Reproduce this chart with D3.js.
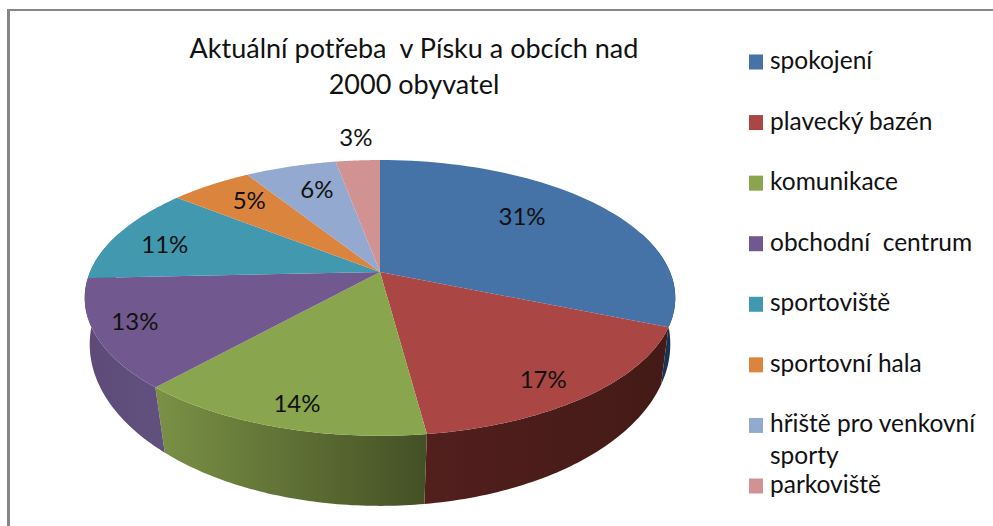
<!DOCTYPE html>
<meta charset="utf-8">
<style>
html, body { margin: 0; padding: 0; background: #fff; }
text { font-family: Lato, "Open Sans", sans-serif; fill: #111; white-space: pre; }
</style>
<body>
<script src="https://d3js.org/d3.v7.min.js"></script>
<script>

// chart data
var titleLines = ["Aktuální potřeba  v Písku a obcích nad", "2000 obyvatel"];
var categories = ["spokojení", "plavecký bazén", "komunikace", "obchodní  centrum",
                  "sportoviště", "sportovní hala", "hřiště pro venkovní sporty", "parkoviště"];
// the labels show these rounded
var percents = [31.3, 16.6, 13.7, 12.7, 11.4, 5.4, 6.0, 2.9];

var width = 993, height = 526;

// colours: top face, then wall shade left -> right
var topColors = ["#4572a7", "#aa4643", "#89a54e", "#71588f", "#4198af", "#db843d", "#93a9cf", "#d19392"];
var wallLeft  = ["#1c3a5e", "#521f1d", "#7a9145", "#5d4a78", "#2f6f80", "#9c5d2b", "#6d7d99", "#9a6c6c"];
var wallRight = ["#16304f", "#431a17", "#445025", "#62507e", "#2f6f80", "#9c5d2b", "#6d7d99", "#9a6c6c"];

var svg = d3.select("body").append("svg")
    .attr("width", width)
    .attr("height", height)
    .style("display", "block");

// chart frame, left edge is a bit thicker than the top one
svg.append("path")
    .attr("d", "M8.5,9V" + height)
    .attr("stroke", "#868686")
    .attr("stroke-width", 3);
svg.append("path")
    .attr("d", "M7,10H" + width)
    .attr("stroke", "#868686")
    .attr("stroke-width", 2);

// title
svg.append("text")
    .attr("text-anchor", "middle")
    .style("font-size", "27px")
    .selectAll("tspan")
    .data(titleLines)
    .enter().append("tspan")
    .attr("x", 414)
    .attr("y", function(d, i) { return 58 + i * 36; })
    .text(function(d) { return d; });

// the pie is a circle seen in perspective. u, v is a point on the plan of the circle
var topPlane = {cx: 380, cy: 272, a: 290, b: 133, q: 0.188};
var bottomPlane = {cx: 380, cy: 320, a: 287, b: 158, q: 0.15};

function project(plane, angle, r) {
  var u = r * Math.sin(angle), v = r * Math.cos(angle);
  var w = 1 + plane.q * v;
  return [plane.cx + plane.a * u / w, plane.cy - plane.b * v / w];
}

var slices = d3.pie().sort(null).value(function(d) { return d; })(percents);

function arcPoints(plane, a0, a1) {
  return d3.range(0, 61).map(function(i) {
    return project(plane, a0 + (a1 - a0) * i / 60, 1);
  });
}

var line = d3.line();
var defs = svg.append("defs");

// side wall, only the part that faces the viewer
var wallFrom = Math.PI * 0.40, wallTo = Math.PI * 1.60;

slices.forEach(function(s, i) {
  var a0 = Math.max(s.startAngle, wallFrom), a1 = Math.min(s.endAngle, wallTo);
  if (a1 <= a0) return;

  var upper = arcPoints(topPlane, a0, a1);
  var lower = arcPoints(bottomPlane, a0, a1).reverse();
  var xs = upper.concat(lower).map(function(p) { return p[0]; });

  var grad = defs.append("linearGradient")
      .attr("id", "wall" + i)
      .attr("gradientUnits", "userSpaceOnUse")
      .attr("x1", d3.min(xs)).attr("x2", d3.max(xs))
      .attr("y1", 0).attr("y2", 0);
  grad.append("stop").attr("offset", 0).attr("stop-color", wallLeft[i]);
  grad.append("stop").attr("offset", 1).attr("stop-color", wallRight[i]);

  svg.append("path")
      .attr("d", line(upper.concat(lower)) + "Z")
      .attr("fill", "url(#wall" + i + ")");
});

// top face
svg.selectAll(".slice")
    .data(slices)
  .enter().append("path")
    .attr("class", "slice")
    .attr("fill", function(d, i) { return topColors[i]; })
    .attr("d", function(d) {
      return line([[topPlane.cx, topPlane.cy]].concat(arcPoints(topPlane, d.startAngle, d.endAngle))) + "Z";
    });

// percent labels: distance from centre as a share of the radius, and a small turn in degrees
var labelReach = [0.695, 0.857, 0.87, 0.864, 0.8, 0.777, 0.739, 1.247];
var labelTurn = [-6.5, 2.7, -1, 1.4, -2.7, 1.6, 1.8, 0.5];

function labelPos(d, i) {
  var mid = (d.startAngle + d.endAngle) / 2 + labelTurn[i] * Math.PI / 180;
  return project(topPlane, mid, labelReach[i]);
}

svg.selectAll(".pct")
    .data(slices)
  .enter().append("text")
    .attr("class", "pct")
    .attr("text-anchor", "middle")
    .attr("dy", "0.35em")
    .style("font-size", "24px")
    .attr("x", function(d, i) { return labelPos(d, i)[0]; })
    .attr("y", function(d, i) { return labelPos(d, i)[1]; })
    .text(function(d) { return d3.format(".0f")(d.data) + "%"; });

// legend, rows sit on a point scale, the long name wraps on two lines
var legendY = d3.scalePoint().domain(d3.range(categories.length)).range([62, 486]);

var legend = svg.selectAll(".legend")
    .data(categories)
  .enter().append("g")
    .attr("class", "legend")
    .attr("transform", function(d, i) { return "translate(749," + legendY(i) + ")"; });

legend.append("rect")
    .attr("y", -7.5)
    .attr("width", 14)
    .attr("height", 15)
    .attr("fill", function(d, i) { return topColors[i]; });

legend.append("text")
    .style("font-size", "24.5px")
    .each(function(d) {
      var t = d3.select(this);
      var rows = d === "hřiště pro venkovní sporty" ? ["hřiště pro venkovní", "sporty"] : [d];
      rows.forEach(function(r, k) {
        t.append("tspan").attr("x", 21).attr("y", 7 + k * 32).text(r);
      });
    });

</script>
</body>
